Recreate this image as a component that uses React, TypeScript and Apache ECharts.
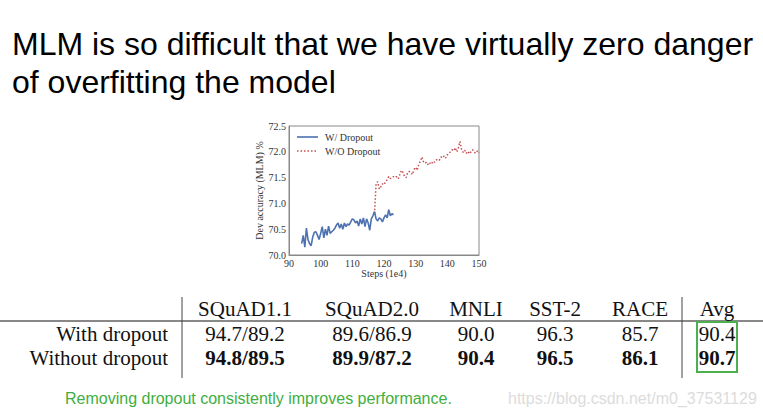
import React, { useEffect, useRef } from "react";
import * as echarts from "echarts";

const titleLines = [
  "MLM is so difficult that we have virtually zero danger",
  "of overfitting the model",
];

const withDropoutSteps = [
  94.0, 94.5, 95.0, 95.5, 96.0, 96.5, 97.0, 97.5, 98.0, 98.5, 99.0, 99.5,
  100.0, 100.5, 101.0, 101.5, 102.0, 102.5, 103.0, 103.5, 104.0, 104.5,
  105.0, 105.5, 106.0, 106.5, 107.0, 107.5, 108.0, 108.5, 109.0, 109.5,
  110.0, 110.5, 111.0, 111.5, 112.0, 112.5, 113.0, 113.5, 114.0, 114.5,
  115.0, 115.5, 116.0, 116.5, 117.0, 117.5, 118.0, 118.5, 119.0, 119.5,
  120.0, 120.5, 121.0, 121.5, 122.0, 122.5, 123.0,
];
const withDropoutAcc = [
  70.22, 70.38, 70.15, 70.52, 70.3, 70.22, 70.18, 70.35, 70.44, 70.45, 70.38, 70.3,
  70.42, 70.55, 70.33, 70.5, 70.38, 70.56, 70.42, 70.45, 70.48, 70.52,
  70.58, 70.62, 70.52, 70.6, 70.5, 70.62, 70.55, 70.6, 70.58, 70.64,
  70.7, 70.68, 70.62, 70.66, 70.56, 70.7, 70.6, 70.72, 70.55, 70.7,
  70.62, 70.48, 70.7, 70.76, 70.84, 70.7, 70.66, 70.72, 70.7, 70.64,
  70.72, 70.78, 70.72, 70.88, 70.76, 70.8, 70.78,
];

const withoutDropoutSteps = [
  117.0, 117.5, 118.0, 118.5, 119.0, 119.5, 120.0, 120.5, 121.0, 121.5,
  122.0, 122.5, 123.0, 123.5, 124.0, 124.5, 125.0, 125.5, 126.0, 126.5,
  127.0, 127.5, 128.0, 128.5, 129.0, 129.5, 130.0, 130.5, 131.0, 131.5,
  132.0, 132.5, 133.0, 133.5, 134.0, 134.5, 135.0, 135.5, 136.0, 136.5,
  137.0, 137.5, 138.0, 138.5, 139.0, 139.5, 140.0, 140.5, 141.0, 141.5,
  142.0, 142.5, 143.0, 143.5, 144.0, 144.5, 145.0, 145.5, 146.0, 146.5,
  147.0, 147.5, 148.0, 148.5, 149.0, 149.5, 150.0,
];
const withoutDropoutAcc = [
  70.8, 71.38, 71.42, 71.28, 71.32, 71.38, 71.36, 71.42, 71.46, 71.52,
  71.48, 71.5, 71.52, 71.5, 71.52, 71.48, 71.56, 71.64, 71.6, 71.52,
  71.5, 71.6, 71.62, 71.6, 71.56, 71.66, 71.7, 71.64, 71.76, 71.82,
  71.9, 71.8, 71.78, 71.8, 71.74, 71.78, 71.76, 71.82, 71.8, 71.84,
  71.86, 71.84, 71.9, 71.88, 71.92, 71.88, 71.94, 71.97, 72.0, 72.04,
  72.02, 72.08, 72.0, 72.08, 72.2, 72.04, 71.99, 72.03, 71.97, 72.01,
  71.96, 72.0, 72.04, 71.99, 71.97, 72.02, 71.98,
];

const seriesNames = ["W/ Dropout", "W/O Dropout"];

const tableHeaders = ["SQuAD1.1", "SQuAD2.0", "MNLI", "SST-2", "RACE", "Avg"];
const rowLabels = ["With dropout", "Without dropout"];
const rowWith = ["94.7/89.2", "89.6/86.9", "90.0", "96.3", "85.7", "90.4"];
const rowWithout = ["94.8/89.5", "89.9/87.2", "90.4", "96.5", "86.1", "90.7"];

const caption = "Removing dropout consistently improves performance.";
const watermark = "https://blog.csdn.net/m0_37531129";

export default function App() {
  const ref = useRef<HTMLDivElement>(null);

  useEffect(() => {
    document.body.style.margin = "0";
    const chart = echarts.init(ref.current!, null, { renderer: "svg" });

    const serif = "Liberation Serif, Times New Roman, serif";
    const sans = "Liberation Sans, Arial, sans-serif";
    const colX = [245, 372, 476, 555, 640, 717];
    const rowY = [309, 334, 358];

    const graphics: any[] = [];
    titleLines.forEach((t, i) => {
      graphics.push({
        type: "text",
        left: 12,
        top: 28 + i * 38,
        style: { text: t, font: `32px ${sans}`, fill: "#000" },
      });
    });
    // legend
    graphics.push({
      type: "line",
      shape: { x1: 297, y1: 137, x2: 318, y2: 137 },
      style: { stroke: "#4c72b0", lineWidth: 1.6 },
    });
    graphics.push({
      type: "text",
      x: 325,
      y: 137,
      style: { text: seriesNames[0], font: `10px ${serif}`, fill: "#333", verticalAlign: "middle" },
    });
    graphics.push({
      type: "line",
      shape: { x1: 297, y1: 151, x2: 318, y2: 151 },
      style: { stroke: "#c44e52", lineWidth: 1.6, lineDash: [1.5, 2] },
    });
    graphics.push({
      type: "text",
      x: 325,
      y: 151,
      style: { text: seriesNames[1], font: `10px ${serif}`, fill: "#333", verticalAlign: "middle" },
    });
    // table
    graphics.push({
      type: "line",
      shape: { x1: 0, y1: 321, x2: 763, y2: 321 },
      style: { stroke: "#888", lineWidth: 2 },
    });
    [182, 682].forEach((x) =>
      graphics.push({
        type: "line",
        shape: { x1: x, y1: 297, x2: x, y2: 378 },
        style: { stroke: "#444", lineWidth: 1 },
      })
    );
    tableHeaders.forEach((h, i) =>
      graphics.push({
        type: "text",
        x: colX[i],
        y: rowY[0],
        style: { text: h, font: `21px ${serif}`, fill: "#111", align: "center", verticalAlign: "middle" },
      })
    );
    rowLabels.forEach((r, i) =>
      graphics.push({
        type: "text",
        x: 168,
        y: rowY[i + 1],
        style: { text: r, font: `21px ${serif}`, fill: "#111", align: "right", verticalAlign: "middle" },
      })
    );
    rowWith.forEach((v, i) =>
      graphics.push({
        type: "text",
        x: colX[i],
        y: rowY[1],
        style: { text: v, font: `21px ${serif}`, fill: "#111", align: "center", verticalAlign: "middle" },
      })
    );
    rowWithout.forEach((v, i) =>
      graphics.push({
        type: "text",
        x: colX[i],
        y: rowY[2],
        style: { text: v, font: `bold 21px ${serif}`, fill: "#111", align: "center", verticalAlign: "middle" },
      })
    );
    graphics.push({
      type: "rect",
      shape: { x: 697, y: 322, width: 40, height: 50 },
      style: { fill: "none", stroke: "#4caf50", lineWidth: 2 },
    });
    graphics.push({
      type: "text",
      x: 65,
      y: 398,
      style: { text: caption, font: `16px ${sans}`, fill: "#3fae3f", verticalAlign: "middle" },
    });
    graphics.push({
      type: "text",
      x: 508,
      y: 398,
      style: { text: watermark, font: `16px ${sans}`, fill: "#dcdcdc", verticalAlign: "middle" },
    });

    chart.setOption({
      animation: false,
      backgroundColor: "#fff",
      grid: {
        left: 289,
        right: 284,
        top: 126,
        bottom: 164,
        show: true,
        borderColor: "#888",
        borderWidth: 1,
        containLabel: false,
      },
      xAxis: {
        type: "value",
        min: 90,
        max: 150,
        interval: 10,
        name: "Steps (1e4)",
        nameLocation: "middle",
        nameGap: 13,
        nameTextStyle: { fontFamily: serif, fontSize: 10, color: "#333" },
        axisLine: { show: true, lineStyle: { color: "#888" } },
        axisTick: { show: false },
        splitLine: { show: false },
        axisLabel: { fontFamily: serif, fontSize: 10, color: "#333", margin: 3 },
      },
      yAxis: {
        type: "value",
        min: 70,
        max: 72.5,
        interval: 0.5,
        name: "Dev accuracy (MLM) %",
        nameLocation: "middle",
        nameGap: 25,
        nameTextStyle: { fontFamily: serif, fontSize: 10, color: "#333" },
        axisLine: { show: true, lineStyle: { color: "#888" } },
        axisTick: { show: false },
        splitLine: { show: false },
        axisLabel: {
          fontFamily: serif,
          fontSize: 10,
          color: "#333",
          margin: 3,
          formatter: (v: number) => v.toFixed(1),
        },
      },
      series: [
        {
          name: seriesNames[1],
          type: "line",
          symbol: "none",
          data: withoutDropoutSteps.map((s, i) => [s, withoutDropoutAcc[i]]),
          lineStyle: { color: "#c44e52", width: 1.5, type: [1.5, 2] },
          z: 2,
        },
        {
          name: seriesNames[0],
          type: "line",
          symbol: "none",
          data: withDropoutSteps.map((s, i) => [s, withDropoutAcc[i]]),
          lineStyle: { color: "#4c72b0", width: 1.6 },
          z: 3,
        },
      ],
      graphic: graphics,
    });

    return () => chart.dispose();
  }, []);

  return (
    <div
      ref={ref}
      style={{ position: "absolute", left: 0, top: 0, width: 763, height: 419 }}
    />
  );
}
